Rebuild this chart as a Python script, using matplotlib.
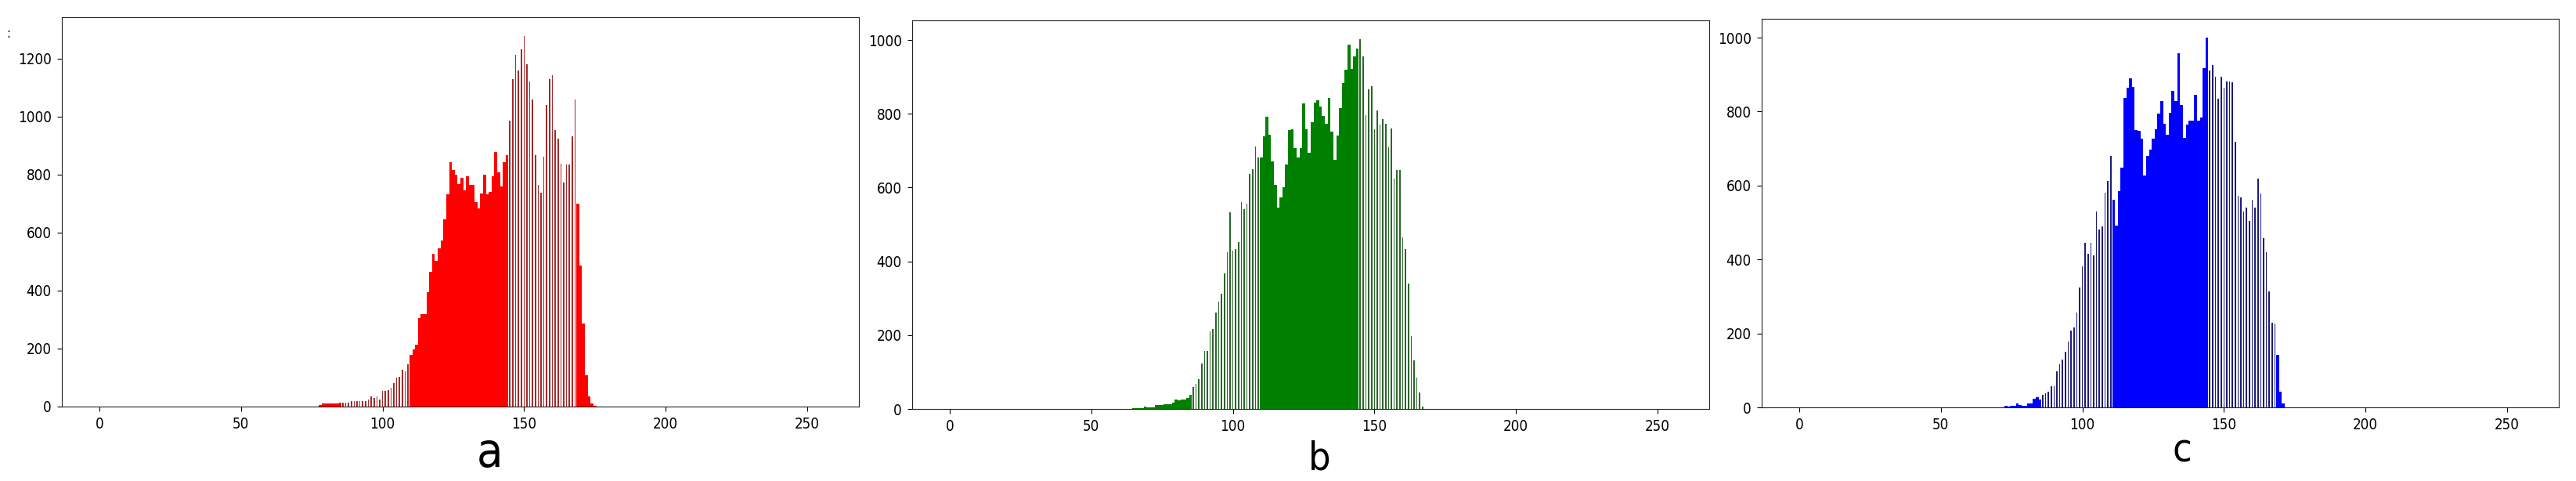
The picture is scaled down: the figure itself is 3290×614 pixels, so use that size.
import numpy as np
import matplotlib
matplotlib.use("Agg")
import matplotlib.pyplot as plt

plt.rcParams['font.family'] = ['DejaVu Sans']
plt.rcParams['font.stretch'] = 'condensed'

# ---- data: 256-bin colour histograms (value per intensity level) ----
levels = np.arange(256)

# red channel
red_start = 78
red_values = [5, 10, 10, 10, 10, 10, 10, 14,
              14, 14, 14, 19, 19, 19, 19, 19, 19, 24, 34, 31, 34, 23,
              53, 54, 58, 64, 82, 99, 103, 128, 122, 146,
              178, 196, 214, 305, 320, 320, 394, 464, 527, 503, 545, 573, 647, 731, 844,
              815, 799, 767, 790, 745, 795, 765, 765, 706, 683, 734, 799, 731, 740, 795,
              878, 808, 759, 843, 867,
              985, 1130, 1214, 1160, 1231, 1279, 1181, 1121, 1060, 867, 765, 739, 862,
              1040, 1130, 1144, 953, 924, 838, 774, 834, 834, 932, 1060,
              701, 487, 287, 107, 34, 12, 3]

# green channel
green_start = 65
green_values = [2, 3, 3, 3, 6, 4, 4, 4, 11, 11, 11, 13, 13, 13, 18, 26, 23, 25, 25, 30, 38,
                60, 69, 80, 123, 158, 157, 211, 217, 261, 290, 312, 367, 425, 533,
                429, 434, 452, 560, 542, 556, 636, 649, 712, 681,
                681, 739, 793, 743, 671, 608, 545, 573, 601, 662, 756, 758, 706, 681, 706,
                828, 758, 694, 777, 831, 836, 820, 795, 772, 843, 751, 675, 740, 816, 884,
                920, 988, 922, 955, 976,
                1003, 955, 797, 867, 874, 758, 810, 770, 785, 773, 710, 761, 625, 647, 647,
                464, 434, 339, 197, 131, 84, 45, 6]

# blue channel
blue_start = 73
blue_values = [4, 2, 4, 4, 11, 7, 5, 4, 11, 11, 23, 27, 21,
               33, 39, 42, 58, 58, 97, 116, 130, 150, 178, 208, 216, 256, 324,
               382, 445, 415, 445, 412, 529, 480, 490, 580, 612, 680,
               561, 492, 584, 649, 838, 864, 889, 866, 751, 748, 726, 628, 680, 698, 726,
               753, 795, 829, 767, 738, 797, 857, 829, 958, 818, 728, 764, 776, 776, 846,
               776, 783, 917, 1001,
               911, 926, 895, 835, 895, 864, 882, 882, 880, 719, 573, 568, 529, 541, 505,
               561, 541, 619, 579, 457, 420, 314, 229, 226,
               143, 42, 11]

# intensity ranges drawn as thin (striped) bars in the original
striped_ranges = {
    'red': [(86, 109), (145, 168)],
    'green': [(86, 109), (145, 167)],
    'blue': [(86, 110), (145, 168)],
}

x_ticks = [0, 50, 100, 150, 200, 250]
panel_labels = ['a', 'b', 'c']


def full_hist(start, values):
    h = np.zeros(256)
    h[start:start + len(values)] = values
    return h


hists = {
    'red': full_hist(red_start, red_values),
    'green': full_hist(green_start, green_values),
    'blue': full_hist(blue_start, blue_values),
}

styles = {
    'red': dict(solid='#ff0000', thin='#a32a2a'),
    'green': dict(solid='#008000', thin='#2a662a'),
    'blue': dict(solid='#0000ff', thin='#1c1c78'),
}

W, H = 3290, 614
fig = plt.figure(figsize=(W / 100, H / 100), dpi=100)

boxes = [
    (79, 22, 1097, 519),
    (1165, 26, 2183, 522),
    (2250, 24, 3268, 520),
]
label_pos = [(626, 596, 44), (1685, 600, 36), (2787, 589, 36)]

for (name, hist), (x0, y0, x1, y1), lab, (lx, ly, lfs) in zip(
        hists.items(), boxes, panel_labels, label_pos):
    ax = fig.add_axes([x0 / W, 1 - y1 / H, (x1 - x0) / W, (y1 - y0) / H])
    thin_mask = np.zeros(256, dtype=bool)
    for a, b in striped_ranges[name]:
        thin_mask[a:b + 1] = True
    solid_mask = ~thin_mask
    ax.bar(levels[solid_mask], hist[solid_mask], width=1.0,
           color=styles[name]['solid'], linewidth=0)
    ax.bar(levels[thin_mask], hist[thin_mask], width=0.45,
           color=styles[name]['thin'], linewidth=0)
    ax.set_xlim(-13.3, 268.3)
    ax.set_ylim(0, hist.max() * 1.05)
    ax.set_xticks(x_ticks)
    ax.tick_params(labelsize=13.5, length=4.5, pad=5)
    for s in ax.spines.values():
        s.set_color('#222222')
    fig.text(lx / W, 1 - ly / H, lab, ha='center', va='baseline', fontsize=lfs)

fig.text(11 / W, 1 - 48 / H, ':', ha='center', va='baseline', fontsize=12)

fig.savefig('out.png', dpi=100)
